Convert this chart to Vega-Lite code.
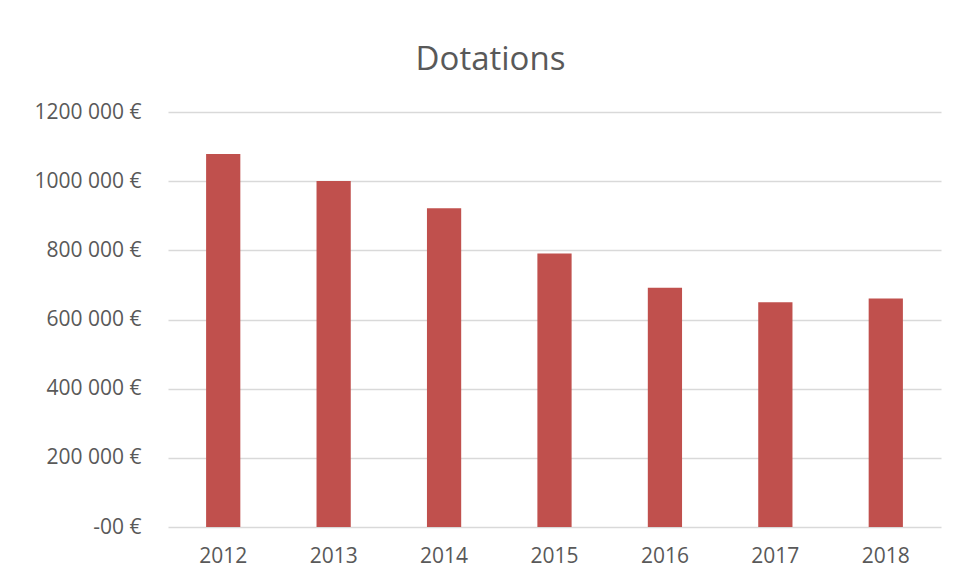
{
  "$schema": "https://vega.github.io/schema/vega-lite/v6.json",
  "autosize": "none",
  "width": 773,
  "height": 415,
  "padding": {"left": 168, "top": 112, "right": 16, "bottom": 52},
  "background": "white",
  "title": {
    "text": "Dotations",
    "anchor": "middle",
    "dx": -64,
    "offset": 24,
    "font": "Open Sans",
    "fontSize": 33,
    "fontWeight": "normal",
    "color": "#595959"
  },
  "data": {
    "values": [
      {"annee": "2012", "dotation": 1078500},
      {"annee": "2013", "dotation": 1000300},
      {"annee": "2014", "dotation": 922000},
      {"annee": "2015", "dotation": 791000},
      {"annee": "2016", "dotation": 691600},
      {"annee": "2017", "dotation": 650200},
      {"annee": "2018", "dotation": 660900}
    ]
  },
  "mark": {"type": "bar", "color": "#C0504D"},
  "encoding": {
    "x": {
      "field": "annee",
      "type": "ordinal",
      "scale": {"paddingInner": 0.69, "paddingOuter": 0.345},
      "axis": {
        "title": null,
        "labelAngle": 0,
        "ticks": false,
        "domain": false,
        "labelPadding": 18,
        "labelFont": "Open Sans",
        "labelFontSize": 21,
        "labelColor": "#595959"
      }
    },
    "y": {
      "field": "dotation",
      "type": "quantitative",
      "scale": {"domain": [0, 1200000], "nice": false},
      "axis": {
        "title": null,
        "values": [0, 200000, 400000, 600000, 800000, 1000000, 1200000],
        "labelExpr": "datum.value == 0 ? '-00 €' : floor(datum.value / 1000) + ' 000 €'",
        "ticks": false,
        "domain": false,
        "labelPadding": 27,
        "labelFont": "Open Sans",
        "labelFontSize": 21,
        "labelColor": "#595959",
        "gridColor": "#D9D9D9",
        "gridWidth": 1.5
      }
    }
  },
  "config": {"view": {"stroke": null}}
}
